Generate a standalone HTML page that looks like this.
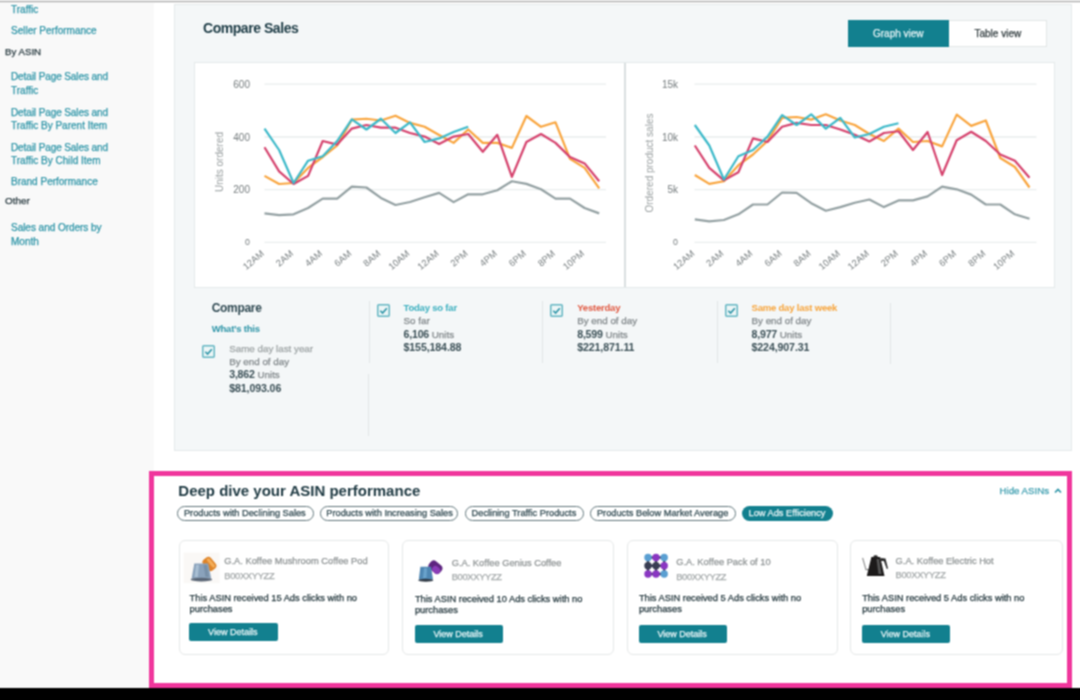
<!DOCTYPE html><html><head><meta charset="utf-8"><style>
html,body{margin:0;padding:0;}
body{width:1080px;height:700px;position:relative;overflow:hidden;background:#fff;font-family:"Liberation Sans", sans-serif;}
.t{position:absolute;white-space:nowrap;-webkit-text-stroke:0.25px currentColor;}
#wrap{position:absolute;left:-20px;top:-20px;width:1120px;height:740px;background:#fff;filter:url(#soft);}
#in{position:absolute;left:20px;top:20px;width:1080px;height:700px;}
.b{position:absolute;box-sizing:border-box;}
svg{position:absolute;left:0;top:0;}
</style></head><body><svg width="0" height="0" style="position:absolute"><filter id="soft" x="0" y="0" width="100%" height="100%" color-interpolation-filters="sRGB"><feConvolveMatrix order="3" kernelMatrix="1 2.0 1 2.0 4.0 2.0 1 2.0 1" edgeMode="duplicate" preserveAlpha="true"/></filter></svg><div id="wrap"><div id="in">
<div class="b" style="left:-20px;top:-20px;width:1120px;height:21px;background:#f6f6f6"></div>
<div class="b" style="left:-20px;top:1px;width:1120px;height:1px;background:#aaaaaa"></div>
<div class="b" style="left:-20px;top:2px;width:1120px;height:1px;background:#ededed"></div>
<div class="b" style="left:-20px;top:3px;width:174px;height:685px;background:#f9f9f9"></div>
<div class="t" style="left:11.00px;top:5.44px;font-size:10px;line-height:10px;color:#2a93a6;">Traffic</div>
<div class="t" style="left:11.00px;top:26.43px;font-size:10px;line-height:10px;color:#2a93a6;">Seller Performance</div>
<div class="t" style="left:5.00px;top:46.79px;font-size:9.7px;line-height:9.7px;color:#26383e;">By ASIN</div>
<div class="t" style="left:11.00px;top:72.03px;font-size:10px;line-height:10px;color:#2a93a6;letter-spacing:-0.1px;">Detail Page Sales and</div>
<div class="t" style="left:11.00px;top:86.44px;font-size:10px;line-height:10px;color:#2a93a6;">Traffic</div>
<div class="t" style="left:11.00px;top:107.63px;font-size:10px;line-height:10px;color:#2a93a6;letter-spacing:-0.1px;">Detail Page Sales and</div>
<div class="t" style="left:11.00px;top:121.23px;font-size:10px;line-height:10px;color:#2a93a6;">Traffic By Parent Item</div>
<div class="t" style="left:11.00px;top:142.63px;font-size:10px;line-height:10px;color:#2a93a6;letter-spacing:-0.1px;">Detail Page Sales and</div>
<div class="t" style="left:11.00px;top:156.23px;font-size:10px;line-height:10px;color:#2a93a6;">Traffic By Child Item</div>
<div class="t" style="left:11.00px;top:176.84px;font-size:10px;line-height:10px;color:#2a93a6;">Brand Performance</div>
<div class="t" style="left:5.00px;top:195.62px;font-size:9.9px;line-height:9.9px;color:#26383e;">Other</div>
<div class="t" style="left:11.00px;top:223.44px;font-size:10px;line-height:10px;color:#2a93a6;letter-spacing:-0.03px;">Sales and Orders by</div>
<div class="t" style="left:11.00px;top:237.03px;font-size:10px;line-height:10px;color:#2a93a6;">Month</div>
<div class="b" style="left:174px;top:4px;width:898px;height:447px;background:#f4f7f8;border:1px solid #e5e9ea"></div>
<div class="t" style="left:203.00px;top:21.15px;font-size:14px;line-height:14px;color:#1b3a44;font-weight:bold;-webkit-text-stroke:0;letter-spacing:-0.45px;">Compare Sales</div>
<div class="b" style="left:848px;top:20px;width:101px;height:26.5px;background:#12808f"></div>
<div class="b" style="left:949px;top:20px;width:98px;height:27px;background:#fff;border:1px solid #e2e6e6;border-left:none"></div>
<div class="t" style="left:873.00px;top:29.04px;font-size:10px;line-height:10px;color:#e6f3f5;">Graph view</div>
<div class="t" style="left:974.50px;top:29.04px;font-size:10px;line-height:10px;color:#2f3a3d;">Table view</div>
<div class="b" style="left:194px;top:62px;width:861px;height:226px;background:#fff;border:1px solid #e4e9ea"></div>
<div class="b" style="left:624px;top:63px;width:2px;height:224px;background:#dadfe0"></div>
<svg width="1080" height="700" viewBox="0 0 1080 700" style="font-family:"Liberation Sans", sans-serif"><line x1="264.5" y1="84.2" x2="606" y2="84.2" stroke="#e9eded" stroke-width="1.3"/>
<line x1="264.5" y1="137.0" x2="606" y2="137.0" stroke="#e9eded" stroke-width="1.3"/>
<line x1="264.5" y1="189.7" x2="606" y2="189.7" stroke="#e9eded" stroke-width="1.3"/>
<line x1="264.5" y1="242.4" x2="606" y2="242.4" stroke="#e9eded" stroke-width="1.3"/>
<polyline points="264.5,213.4 279.1,215.2 293.6,214.3 308.1,208 322.7,198.6 337.2,198.6 351.8,186.6 366.4,187.5 380.9,197.9 395.5,205 410.0,202 424.6,197.3 439.1,192.9 453.6,202.1 468.2,194.3 482.8,194.3 497.3,190.2 511.9,181.25 526.4,183.9 541.0,189.3 555.5,198.6 570.0,198.6 584.6,208 599.2,213.4" fill="none" stroke="#93a0a2" stroke-width="2.2" stroke-linejoin="round"/>
<polyline points="264.5,175.9 279.1,184 293.6,183 308.1,167.9 322.7,157 337.2,145.5 351.8,119.6 366.4,118.75 380.9,120.5 395.5,115.7 410.0,122.9 424.6,126.8 439.1,135 453.6,142.9 468.2,129.5 482.8,142.9 497.3,142.9 511.9,147.9 526.4,116 541.0,126.8 555.5,122.3 570.0,158.9 584.6,167.9 599.2,188.4" fill="none" stroke="#f9a53e" stroke-width="2.2" stroke-linejoin="round"/>
<polyline points="264.5,147.3 279.1,171.4 293.6,184 308.1,175.9 322.7,141 337.2,144.6 351.8,128.6 366.4,125 380.9,127.7 395.5,127.7 410.0,133 424.6,136.6 439.1,144 453.6,136.6 468.2,134 482.8,151.8 497.3,134.8 511.9,176.8 526.4,142 541.0,134 555.5,142.9 570.0,157.1 584.6,163.4 599.2,181.25" fill="none" stroke="#d5426d" stroke-width="2.2" stroke-linejoin="round"/>
<polyline points="264.5,128.6 279.1,150 293.6,183 308.1,160.7 322.7,156.3 337.2,141 351.8,119.3 366.4,129.5 380.9,118.75 395.5,133 410.0,122.3 424.6,142 439.1,138.4 453.6,132 468.2,126.8" fill="none" stroke="#3cb9c9" stroke-width="2.2" stroke-linejoin="round"/>
<text x="250" y="87.7" text-anchor="end" font-size="10" fill="#737a7c">600</text>
<text x="250" y="140.5" text-anchor="end" font-size="10" fill="#737a7c">400</text>
<text x="250" y="193.2" text-anchor="end" font-size="10" fill="#737a7c">200</text>
<text x="250" y="245.3" text-anchor="end" font-size="8.8" fill="#737a7c">0</text>
<text x="222.5" y="162" text-anchor="middle" font-size="10" fill="#9aa0a1" transform="rotate(-90 222.5 162)">Units ordered</text>
<text x="264.8" y="254.6" text-anchor="end" font-size="9.3" fill="#767d7f" transform="rotate(-40 264.8 254.6)">12AM</text>
<text x="293.90000000000003" y="254.6" text-anchor="end" font-size="9.3" fill="#767d7f" transform="rotate(-40 293.90000000000003 254.6)">2AM</text>
<text x="323.0" y="254.6" text-anchor="end" font-size="9.3" fill="#767d7f" transform="rotate(-40 323.0 254.6)">4AM</text>
<text x="352.1" y="254.6" text-anchor="end" font-size="9.3" fill="#767d7f" transform="rotate(-40 352.1 254.6)">6AM</text>
<text x="381.2" y="254.6" text-anchor="end" font-size="9.3" fill="#767d7f" transform="rotate(-40 381.2 254.6)">8AM</text>
<text x="410.3" y="254.6" text-anchor="end" font-size="9.3" fill="#767d7f" transform="rotate(-40 410.3 254.6)">10AM</text>
<text x="439.40000000000003" y="254.6" text-anchor="end" font-size="9.3" fill="#767d7f" transform="rotate(-40 439.40000000000003 254.6)">12AM</text>
<text x="468.50000000000006" y="254.6" text-anchor="end" font-size="9.3" fill="#767d7f" transform="rotate(-40 468.50000000000006 254.6)">2PM</text>
<text x="497.6" y="254.6" text-anchor="end" font-size="9.3" fill="#767d7f" transform="rotate(-40 497.6 254.6)">4PM</text>
<text x="526.7" y="254.6" text-anchor="end" font-size="9.3" fill="#767d7f" transform="rotate(-40 526.7 254.6)">6PM</text>
<text x="555.8" y="254.6" text-anchor="end" font-size="9.3" fill="#767d7f" transform="rotate(-40 555.8 254.6)">8PM</text>
<text x="584.9" y="254.6" text-anchor="end" font-size="9.3" fill="#767d7f" transform="rotate(-40 584.9 254.6)">10PM</text><line x1="694.5" y1="84.2" x2="1036.5" y2="84.2" stroke="#e9eded" stroke-width="1.3"/>
<line x1="694.5" y1="137.0" x2="1036.5" y2="137.0" stroke="#e9eded" stroke-width="1.3"/>
<line x1="694.5" y1="189.7" x2="1036.5" y2="189.7" stroke="#e9eded" stroke-width="1.3"/>
<line x1="694.5" y1="242.4" x2="1036.5" y2="242.4" stroke="#e9eded" stroke-width="1.3"/>
<polyline points="694.8,219.3 709.3,221.4 723.9,220 738.4,214.3 753.0,204.5 767.5,204.5 782.1,192.5 796.6,192.9 811.2,203.2 825.8,210.7 840.3,207.1 854.8,202.7 869.4,199.5 883.9,207.1 898.5,200.4 913.0,200.4 927.6,196.4 942.1,186.6 956.7,189.3 971.2,194.6 985.8,204.5 1000.3,204.5 1014.9,214.3 1029.5,218.75" fill="none" stroke="#93a0a2" stroke-width="2.2" stroke-linejoin="round"/>
<polyline points="694.8,175 709.3,183.9 723.9,181.25 738.4,165.2 753.0,154.5 767.5,141 782.1,117.9 796.6,117 811.2,119.6 825.8,114.3 840.3,120.5 854.8,125 869.4,134 883.9,141 898.5,128.6 913.0,142 927.6,141 942.1,146.4 956.7,114.6 971.2,125.9 985.8,120.5 1000.3,158 1014.9,167 1029.5,187.5" fill="none" stroke="#f9a53e" stroke-width="2.2" stroke-linejoin="round"/>
<polyline points="694.8,145.5 709.3,167.9 723.9,180.4 738.4,172.3 753.0,138.4 767.5,142 782.1,126.8 796.6,122.9 811.2,125 825.8,125 840.3,129.5 854.8,134.8 869.4,141.5 883.9,133 898.5,131.25 913.0,150 927.6,132 942.1,175 956.7,140.2 971.2,131.8 985.8,141 1000.3,154.5 1014.9,160.7 1029.5,177.7" fill="none" stroke="#d5426d" stroke-width="2.2" stroke-linejoin="round"/>
<polyline points="694.8,125 709.3,145.5 723.9,179.5 738.4,156.25 753.0,150 767.5,136.6 782.1,115.2 796.6,125 811.2,114.3 825.8,128.6 840.3,117.9 854.8,137.5 869.4,134 883.9,126.8 898.5,123.2" fill="none" stroke="#3cb9c9" stroke-width="2.2" stroke-linejoin="round"/>
<text x="678" y="87.7" text-anchor="end" font-size="10" fill="#737a7c">15k</text>
<text x="678" y="140.5" text-anchor="end" font-size="10" fill="#737a7c">10k</text>
<text x="678" y="193.2" text-anchor="end" font-size="10" fill="#737a7c">5k</text>
<text x="678" y="245.3" text-anchor="end" font-size="8.8" fill="#737a7c">0</text>
<text x="652.5" y="163" text-anchor="middle" font-size="10" fill="#9aa0a1" transform="rotate(-90 652.5 163)">Ordered product sales</text>
<text x="695.0999999999999" y="254.6" text-anchor="end" font-size="9.3" fill="#767d7f" transform="rotate(-40 695.0999999999999 254.6)">12AM</text>
<text x="724.1999999999999" y="254.6" text-anchor="end" font-size="9.3" fill="#767d7f" transform="rotate(-40 724.1999999999999 254.6)">2AM</text>
<text x="753.3" y="254.6" text-anchor="end" font-size="9.3" fill="#767d7f" transform="rotate(-40 753.3 254.6)">4AM</text>
<text x="782.3999999999999" y="254.6" text-anchor="end" font-size="9.3" fill="#767d7f" transform="rotate(-40 782.3999999999999 254.6)">6AM</text>
<text x="811.4999999999999" y="254.6" text-anchor="end" font-size="9.3" fill="#767d7f" transform="rotate(-40 811.4999999999999 254.6)">8AM</text>
<text x="840.5999999999999" y="254.6" text-anchor="end" font-size="9.3" fill="#767d7f" transform="rotate(-40 840.5999999999999 254.6)">10AM</text>
<text x="869.6999999999999" y="254.6" text-anchor="end" font-size="9.3" fill="#767d7f" transform="rotate(-40 869.6999999999999 254.6)">12AM</text>
<text x="898.8" y="254.6" text-anchor="end" font-size="9.3" fill="#767d7f" transform="rotate(-40 898.8 254.6)">2PM</text>
<text x="927.8999999999999" y="254.6" text-anchor="end" font-size="9.3" fill="#767d7f" transform="rotate(-40 927.8999999999999 254.6)">4PM</text>
<text x="957.0" y="254.6" text-anchor="end" font-size="9.3" fill="#767d7f" transform="rotate(-40 957.0 254.6)">6PM</text>
<text x="986.0999999999999" y="254.6" text-anchor="end" font-size="9.3" fill="#767d7f" transform="rotate(-40 986.0999999999999 254.6)">8PM</text>
<text x="1015.1999999999999" y="254.6" text-anchor="end" font-size="9.3" fill="#767d7f" transform="rotate(-40 1015.1999999999999 254.6)">10PM</text></svg><div class="t" style="left:211.70px;top:302.44px;font-size:12px;line-height:12px;color:#2f4952;font-weight:bold;-webkit-text-stroke:0;letter-spacing:-0.3px;">Compare</div>
<div class="t" style="left:211.70px;top:323.66px;font-size:9.5px;line-height:9.5px;color:#2a93a6;font-weight:bold;-webkit-text-stroke:0;letter-spacing:-0.2px;">What’s this</div>
<svg style="left:202px;top:344.5px" width="13" height="13" viewBox="0 0 13 13"><rect x="0.75" y="0.75" width="11.5" height="11.5" rx="1" fill="#edf6f7" stroke="#64b5c2" stroke-width="1.5"/><path d="M3.3 6.7 L5.6 9 L9.8 4.2" fill="none" stroke="#2a93a6" stroke-width="1.6"/></svg>
<div class="t" style="left:229.20px;top:343.50px;font-size:9.8px;line-height:9.8px;color:#9ea4a5;">Same day last year</div>
<div class="t" style="left:229.20px;top:356.90px;font-size:9.8px;line-height:9.8px;color:#80878a;">By end of day</div>
<div class="t" style="left:229.20px;top:370.30px;font-size:9.8px;line-height:9.8px;color:#80878a;"><b style="color:#3a4f56;letter-spacing:-0.2px;font-size:10.6px;-webkit-text-stroke:0">3,862</b> Units</div>
<div class="t" style="left:229.20px;top:383.03px;font-size:10.6px;line-height:10.6px;color:#3a4f56;font-weight:bold;-webkit-text-stroke:0;letter-spacing:-0.1px;">$81,093.06</div>
<div class="b" style="left:369px;top:301px;width:1px;height:62px;background:#e1e5e6"></div>
<svg style="left:377px;top:303.5px" width="13" height="13" viewBox="0 0 13 13"><rect x="0.75" y="0.75" width="11.5" height="11.5" rx="1" fill="#edf6f7" stroke="#64b5c2" stroke-width="1.5"/><path d="M3.3 6.7 L5.6 9 L9.8 4.2" fill="none" stroke="#2a93a6" stroke-width="1.6"/></svg>
<div class="t" style="left:403.50px;top:302.76px;font-size:9.5px;line-height:9.5px;color:#38aebe;font-weight:bold;-webkit-text-stroke:0;letter-spacing:-0.2px;">Today so far</div>
<div class="t" style="left:403.50px;top:316.00px;font-size:9.8px;line-height:9.8px;color:#80878a;">So far</div>
<div class="t" style="left:403.50px;top:329.50px;font-size:9.8px;line-height:9.8px;color:#80878a;"><b style="color:#3a4f56;letter-spacing:-0.2px;font-size:10.6px;-webkit-text-stroke:0">6,106</b> Units</div>
<div class="t" style="left:403.50px;top:342.33px;font-size:10.6px;line-height:10.6px;color:#3a4f56;font-weight:bold;-webkit-text-stroke:0;letter-spacing:-0.1px;">$155,184.88</div>
<div class="b" style="left:542px;top:301px;width:1px;height:62px;background:#e1e5e6"></div>
<svg style="left:550px;top:303.5px" width="13" height="13" viewBox="0 0 13 13"><rect x="0.75" y="0.75" width="11.5" height="11.5" rx="1" fill="#edf6f7" stroke="#64b5c2" stroke-width="1.5"/><path d="M3.3 6.7 L5.6 9 L9.8 4.2" fill="none" stroke="#2a93a6" stroke-width="1.6"/></svg>
<div class="t" style="left:577.20px;top:302.76px;font-size:9.5px;line-height:9.5px;color:#e0573f;font-weight:bold;-webkit-text-stroke:0;letter-spacing:-0.2px;">Yesterday</div>
<div class="t" style="left:577.20px;top:316.00px;font-size:9.8px;line-height:9.8px;color:#80878a;">By end of day</div>
<div class="t" style="left:577.20px;top:329.50px;font-size:9.8px;line-height:9.8px;color:#80878a;"><b style="color:#3a4f56;letter-spacing:-0.2px;font-size:10.6px;-webkit-text-stroke:0">8,599</b> Units</div>
<div class="t" style="left:577.20px;top:342.33px;font-size:10.6px;line-height:10.6px;color:#3a4f56;font-weight:bold;-webkit-text-stroke:0;letter-spacing:-0.1px;">$221,871.11</div>
<div class="b" style="left:717px;top:301px;width:1px;height:62px;background:#e1e5e6"></div>
<svg style="left:725px;top:303.5px" width="13" height="13" viewBox="0 0 13 13"><rect x="0.75" y="0.75" width="11.5" height="11.5" rx="1" fill="#edf6f7" stroke="#64b5c2" stroke-width="1.5"/><path d="M3.3 6.7 L5.6 9 L9.8 4.2" fill="none" stroke="#2a93a6" stroke-width="1.6"/></svg>
<div class="t" style="left:751.50px;top:302.76px;font-size:9.5px;line-height:9.5px;color:#f7a43b;font-weight:bold;-webkit-text-stroke:0;letter-spacing:-0.2px;">Same day last week</div>
<div class="t" style="left:751.50px;top:316.00px;font-size:9.8px;line-height:9.8px;color:#80878a;">By end of day</div>
<div class="t" style="left:751.50px;top:329.50px;font-size:9.8px;line-height:9.8px;color:#80878a;"><b style="color:#3a4f56;letter-spacing:-0.2px;font-size:10.6px;-webkit-text-stroke:0">8,977</b> Units</div>
<div class="t" style="left:751.50px;top:342.33px;font-size:10.6px;line-height:10.6px;color:#3a4f56;font-weight:bold;-webkit-text-stroke:0;letter-spacing:-0.1px;">$224,907.31</div>
<div class="b" style="left:890px;top:303px;width:1px;height:61px;background:#e1e5e6"></div>
<div class="b" style="left:368px;top:374px;width:1px;height:62px;background:#e1e5e6"></div>
<div class="b" style="left:149px;top:471px;width:923px;height:217px;background:#fff;border:5px solid #f0369c"></div>
<div class="t" style="left:178.30px;top:482.90px;font-size:15px;line-height:15px;color:#203b44;font-weight:bold;-webkit-text-stroke:0;">Deep dive your ASIN performance</div>
<div class="t" style="left:999.50px;top:485.99px;font-size:9.7px;line-height:9.7px;color:#3a9cae;">Hide ASINs</div>
<svg style="left:1054px;top:487px" width="8" height="8" viewBox="0 0 8 8"><path d="M1 5.5 L4 2.5 L7 5.5" fill="none" stroke="#2a93a6" stroke-width="1.6"/></svg>
<div class="b" style="left:177.4px;top:506px;width:136.6px;height:15px;border:1.3px solid #62777c;border-radius:8px;"></div>
<div class="t" style="left:183.90px;top:508.57px;font-size:9.25px;line-height:9.25px;color:#2f4850;">Products with Declining Sales</div>
<div class="b" style="left:319.8px;top:506px;width:138.1px;height:15px;border:1.3px solid #62777c;border-radius:8px;"></div>
<div class="t" style="left:326.30px;top:508.57px;font-size:9.25px;line-height:9.25px;color:#2f4850;">Products with Increasing Sales</div>
<div class="b" style="left:465.1px;top:506px;width:119.2px;height:15px;border:1.3px solid #62777c;border-radius:8px;"></div>
<div class="t" style="left:471.60px;top:508.57px;font-size:9.25px;line-height:9.25px;color:#2f4850;">Declining Traffic Products</div>
<div class="b" style="left:590.4px;top:506px;width:145.6px;height:15px;border:1.3px solid #62777c;border-radius:8px;"></div>
<div class="t" style="left:596.90px;top:508.57px;font-size:9.25px;line-height:9.25px;color:#2f4850;">Products Below Market Average</div>
<div class="b" style="left:742px;top:506px;width:91px;height:15px;background:#12808f;border-radius:8px;"></div>
<div class="t" style="left:748.50px;top:508.57px;font-size:9.25px;line-height:9.25px;color:#e8f4f6;">Low Ads Efficiency</div>
<div class="b" style="left:178.5px;top:539.5px;width:210.7px;height:115.5px;border:1px solid #e5e8e8;border-radius:6px;background:#fff"></div>
<svg style="left:183px;top:551px" width="38" height="34" viewBox="183 551 38 34">
<rect x="183.6" y="552.6" width="36" height="30.6" fill="#faf8f6"/>
<g transform="rotate(50 209.4 564)"><rect x="202.4" y="559" width="14" height="10" rx="3.5" fill="#de8429"/>
<rect x="204" y="560.5" width="11" height="3.2" rx="1.5" fill="#f4ad58"/></g>
<path d="M194.3 563.5 L208.2 563.5 L211.2 578.5 L191.6 578.5 Z" fill="#8aa2bb"/>
<path d="M196 565 L199 565 L197.8 577 L194.5 577 Z" fill="#a9bfd3"/>
<path d="M203.5 565 L207 565 L209 577 L205.5 577 Z" fill="#7890a8"/>
<ellipse cx="201.4" cy="579.6" rx="10.8" ry="1.8" fill="#5a6676"/>
</svg>
<div class="t" style="left:224.30px;top:557.33px;font-size:9.3px;line-height:9.3px;color:#8e9394;">G.A. Koffee Mushroom Coffee Pod</div>
<div class="t" style="left:224.30px;top:571.53px;font-size:9.3px;line-height:9.3px;color:#a3a8a9;letter-spacing:-0.3px;">B00XXYYZZ</div>
<div class="t" style="left:189.60px;top:593.63px;font-size:9.3px;line-height:9.3px;color:#22363c;">This ASIN received 15 Ads clicks with no</div>
<div class="t" style="left:189.60px;top:604.63px;font-size:9.3px;line-height:9.3px;color:#22363c;">purchases</div>
<div class="b" style="left:189.2px;top:623px;width:88.5px;height:18px;background:#12808f;border-radius:2px"></div>
<div class="t" style="left:208.10px;top:627.98px;font-size:9px;line-height:9px;color:#e9f5f7;">View Details</div>
<div class="b" style="left:402.1px;top:539.5px;width:211.9px;height:115.5px;border:1px solid #e5e8e8;border-radius:6px;background:#fff"></div>
<svg style="left:416px;top:556px" width="30" height="28" viewBox="416 556 30 28">
<g transform="rotate(40 435.4 567.2)"><rect x="428.4" y="562.2" width="14" height="10" rx="4" fill="#5e2580"/>
<rect x="433.5" y="565.5" width="8.5" height="6.5" rx="3" fill="#8b3db8"/></g>
<path d="M420.4 566.8 L431 566.8 L433 579.5 L418.8 579.5 Z" fill="#4f87b3"/>
<path d="M424 568 L427 568 L426.5 578 L423 578 Z" fill="#6aa3cc"/>
<ellipse cx="425.8" cy="580.2" rx="7.6" ry="1.5" fill="#2f3a46"/>
</svg>
<div class="t" style="left:451.70px;top:558.83px;font-size:9.3px;line-height:9.3px;color:#8e9394;">G.A. Koffee Genius Coffee</div>
<div class="t" style="left:451.70px;top:573.03px;font-size:9.3px;line-height:9.3px;color:#a3a8a9;letter-spacing:-0.3px;">B00XXYYZZ</div>
<div class="t" style="left:414.90px;top:594.53px;font-size:9.3px;line-height:9.3px;color:#22363c;">This ASIN received 10 Ads clicks with no</div>
<div class="t" style="left:414.90px;top:605.53px;font-size:9.3px;line-height:9.3px;color:#22363c;">purchases</div>
<div class="b" style="left:414.5px;top:625px;width:88.5px;height:18px;background:#12808f;border-radius:2px"></div>
<div class="t" style="left:433.40px;top:629.98px;font-size:9px;line-height:9px;color:#e9f5f7;">View Details</div>
<div class="b" style="left:626.5px;top:539.5px;width:211.7px;height:115.5px;border:1px solid #e5e8e8;border-radius:6px;background:#fff"></div>
<svg style="left:642px;top:552px" width="28" height="27" viewBox="642 552 28 27"><path d="M648 557.5 V574 M656 557.5 V574 M664.2 557.5 V574 M648 557.5 H664.2 M648 565.7 H664.2 M648 574 H664.2" stroke="#3a3f55" stroke-width="2.4"/><circle cx="648" cy="557.5" r="3.7" fill="#5a9fd2"/><circle cx="656" cy="557.5" r="3.7" fill="#8a36c2"/><circle cx="664.2" cy="557.5" r="3.7" fill="#5a9fd2"/><circle cx="648" cy="565.7" r="3.7" fill="#383d52"/><circle cx="656" cy="565.7" r="3.7" fill="#383d52"/><circle cx="664.2" cy="565.7" r="3.7" fill="#8a36c2"/><circle cx="648" cy="574" r="3.7" fill="#8a36c2"/><circle cx="656" cy="574" r="3.7" fill="#8a36c2"/><circle cx="664.2" cy="574" r="3.7" fill="#5a9fd2"/></svg>
<div class="t" style="left:676.20px;top:558.33px;font-size:9.3px;line-height:9.3px;color:#8e9394;">G.A. Koffee Pack of 10</div>
<div class="t" style="left:676.20px;top:572.53px;font-size:9.3px;line-height:9.3px;color:#a3a8a9;letter-spacing:-0.3px;">B00XXYYZZ</div>
<div class="t" style="left:638.90px;top:594.23px;font-size:9.3px;line-height:9.3px;color:#22363c;">This ASIN received 5 Ads clicks with no</div>
<div class="t" style="left:638.90px;top:605.23px;font-size:9.3px;line-height:9.3px;color:#22363c;">purchases</div>
<div class="b" style="left:638.5px;top:625px;width:88.5px;height:18px;background:#12808f;border-radius:2px"></div>
<div class="t" style="left:657.40px;top:629.98px;font-size:9px;line-height:9px;color:#e9f5f7;">View Details</div>
<div class="b" style="left:850.3px;top:539.5px;width:212.7px;height:115.5px;border:1px solid #e5e8e8;border-radius:6px;background:#fff"></div>
<svg style="left:860px;top:553px" width="30" height="26" viewBox="860 553 30 26">
<path d="M862.6 557.8 L866 569.6 L869.5 569.6" fill="none" stroke="#8a8a8a" stroke-width="1.1"/>
<path d="M871.4 557 L880.2 557 L884.5 576 L866.8 576 Z" fill="#1c1a1a"/>
<path d="M876.5 559 L879 559 L881.5 574 L878.5 574 Z" fill="#555555"/>
<ellipse cx="875.6" cy="556.4" rx="2.2" ry="1.2" fill="#2a2a2a"/>
<path d="M880.5 558 L885.5 558.5 L888 568.5 L886.8 569 L883.8 561 L881 561 Z" fill="#2a2a2a"/>
</svg>
<div class="t" style="left:895.60px;top:556.53px;font-size:9.3px;line-height:9.3px;color:#8e9394;">G.A. Koffee Electric Hot</div>
<div class="t" style="left:895.60px;top:570.73px;font-size:9.3px;line-height:9.3px;color:#a3a8a9;letter-spacing:-0.3px;">B00XXYYZZ</div>
<div class="t" style="left:862.20px;top:593.63px;font-size:9.3px;line-height:9.3px;color:#22363c;">This ASIN received 5 Ads clicks with no</div>
<div class="t" style="left:862.20px;top:604.63px;font-size:9.3px;line-height:9.3px;color:#22363c;">purchases</div>
<div class="b" style="left:861.8px;top:625px;width:88.5px;height:18px;background:#12808f;border-radius:2px"></div>
<div class="t" style="left:880.70px;top:629.98px;font-size:9px;line-height:9px;color:#e9f5f7;">View Details</div>
<div class="b" style="left:-20px;top:688px;width:1120px;height:32px;background:#000"></div>
</div></div></body></html>
